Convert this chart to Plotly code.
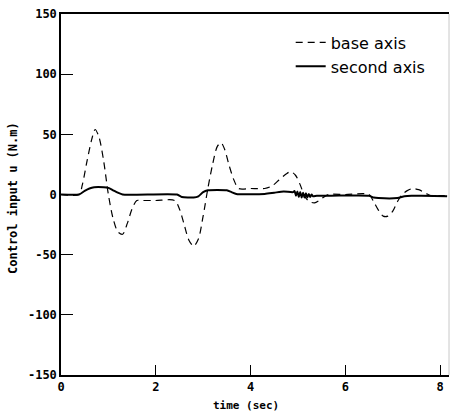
import plotly.graph_objects as go

# base axis (dashed) control input
t_base = [0, 0.38, 0.45, 0.55, 0.65, 0.72, 0.80, 0.90, 1.00, 1.10, 1.20, 1.30, 1.40, 1.50, 1.60,
          1.70, 2.00, 2.40, 2.50, 2.60, 2.70, 2.80, 2.90, 3.00, 3.10, 3.20, 3.30, 3.38, 3.45, 3.55,
          3.65, 3.75, 4.00, 4.30, 4.45, 4.60, 4.75, 4.85, 4.95, 5.05, 5.15, 5.25, 5.35, 5.45, 5.55,
          5.65, 6.00, 6.50, 6.60, 6.70, 6.80, 6.90, 7.00, 7.10, 7.20, 7.30, 7.42, 7.55, 7.70, 7.80,
          8.00, 8.15]
u_base = [0, 0, 8, 28, 46, 54, 48, 28, 0, -20, -31, -33, -24, -12, -5,
          -5, -5, -5, -12, -25, -38, -43, -37, -18, 5, 25, 40, 43, 38, 24,
          12, 5, 5, 5, 7, 12, 17, 19, 16, 8, -2, -6, -7, -5, -2,
          0, 0, 0, -6, -13, -18, -18, -14, -6, 0, 3, 5, 4, 1, -1,
          -1, -1]

# second axis (solid) control input
t_second = [0, 0.38, 0.50, 0.60, 0.70, 0.90, 1.00, 1.10, 1.20, 1.30, 2.45, 2.55, 2.80, 2.90, 3.00,
            3.10, 3.50, 3.60, 3.70, 4.30, 4.50, 4.70, 4.90, 4.93, 4.96, 4.99, 5.02, 5.05, 5.08, 5.11,
            5.14, 5.17, 5.20, 5.23, 5.26, 5.29, 5.32, 5.40, 5.70, 6.50, 6.60, 6.70, 7.10, 7.25, 7.40,
            7.60, 8.15]
u_second = [0, 0, 3, 5, 6, 6, 5.5, 3.5, 1.5, 0, 0, -2, -2.5, -1.5, 2,
            3.5, 3.5, 2, 0.5, 0.5, 1.5, 2.5, 2, 3, -1, 2.5, -2, 2, -2.5, 1.5,
            -2.5, 1, -2.5, 0.5, -2, 0, -1.5, -1, -1, -1, -2.5, -3, -3, -1.5, -1,
            -1, -1.5]

x_ticks = [0, 2, 4, 6, 8]
y_ticks = [-150, -100, -50, 0, 50, 100, 150]

fig = go.Figure()
fig.add_trace(go.Scatter(x=t_base, y=u_base, mode="lines", name="base axis",
                         line=dict(color="black", width=1.2, dash="7px,5px", shape="spline", smoothing=0.8)))
fig.add_trace(go.Scatter(x=t_second, y=u_second, mode="lines", name="second axis",
                         line=dict(color="black", width=2, shape="spline", smoothing=0.6)))

tickfont = dict(family="DejaVu Sans Mono", size=12, color="black", weight="bold")

fig.update_layout(
    width=451, height=413,
    margin=dict(l=61, r=2, t=14, b=38, autoexpand=False),
    paper_bgcolor="white", plot_bgcolor="white",
    showlegend=True,
    legend=dict(x=0.592, y=0.968, xanchor="left", yanchor="top",
                font=dict(family="DejaVu Sans", size=16, color="black"),
                bgcolor="rgba(0,0,0,0)", borderwidth=0),
    xaxis=dict(range=[0, 8.19], tickvals=x_ticks, ticktext=[str(v) for v in x_ticks],
               ticks="inside", ticklen=10, tickwidth=1.2, tickcolor="black",
               showgrid=False, zeroline=False, showline=True, linecolor="black", linewidth=1.5,
               mirror=True, tickfont=tickfont, automargin=False),
    yaxis=dict(range=[-150, 150], tickvals=y_ticks, ticktext=[str(v) for v in y_ticks],
               ticks="inside", ticklen=12, tickwidth=1.2, tickcolor="black",
               showgrid=False, zeroline=False, showline=True, linecolor="black", linewidth=1.5,
               tickfont=tickfont, automargin=False),
)
fig.add_shape(type="line", xref="paper", yref="paper", x0=1, x1=1, y0=0, y1=1,
              line=dict(color="#c8c8c8", width=1))

# axis titles
fig.add_annotation(text="time (sec)", xref="paper", yref="paper",
                   x=(246 - 61) / 388, y=-(405 - 375) / 361, xanchor="center", yanchor="middle",
                   showarrow=False, font=dict(family="DejaVu Sans Mono", size=11, color="black", weight="bold"))
fig.add_annotation(text="Control input u (N.m)", xref="paper", yref="paper",
                   x=-(61 - 13) / 388, y=(375 - 198) / 361, xanchor="center", yanchor="middle",
                   textangle=-90, showarrow=False,
                   font=dict(family="DejaVu Sans Mono", size=12, color="black", weight="bold"))

fig.write_html("out.html", config={"displayModeBar": False},
               post_script="document.body.style.margin='0px';document.body.style.overflow='hidden';")
